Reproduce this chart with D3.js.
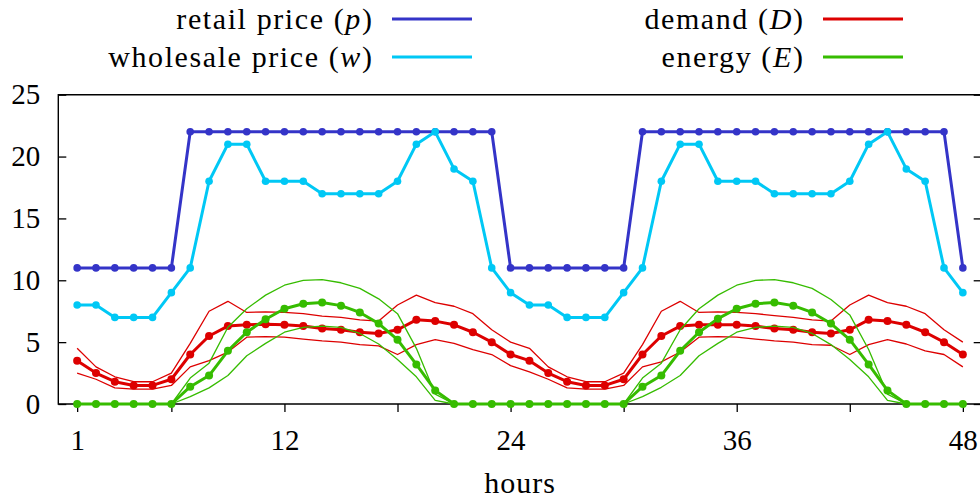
<!DOCTYPE html>
<html>
<head>
<meta charset="utf-8">
<script src="https://cdn.jsdelivr.net/npm/d3@7"></script>
<style>
  body { margin: 0; background: #fff; }
</style>
</head>
<body>
<div id="chart"></div>
<script>
// hourly values, two days (1..48)
const retail = [11, 11, 11, 11, 11, 11, 22, 22, 22, 22, 22, 22, 22, 22, 22, 22, 22, 22, 22, 22, 22, 22, 22, 11,
  11, 11, 11, 11, 11, 11, 22, 22, 22, 22, 22, 22, 22, 22, 22, 22, 22, 22, 22, 22, 22, 22, 22, 11];
const wholesale = [8, 8, 7, 7, 7, 9, 11, 18, 21, 21, 18, 18, 18, 17, 17, 17, 17, 18, 21, 22, 19, 18, 11, 9,
  8, 8, 7, 7, 7, 9, 11, 18, 21, 21, 18, 18, 18, 17, 17, 17, 17, 18, 21, 22, 19, 18, 11, 9];
const demand = [3.5, 2.5, 1.8, 1.5, 1.5, 2.0, 4.0, 5.5, 6.3, 6.4, 6.45, 6.4, 6.3, 6.1, 6.0, 5.8, 5.7, 6.0, 6.8, 6.7, 6.4, 5.8, 5.0, 4.0,
  3.5, 2.5, 1.8, 1.5, 1.5, 2.0, 4.0, 5.5, 6.3, 6.4, 6.4, 6.4, 6.3, 6.1, 6.0, 5.8, 5.7, 6.0, 6.8, 6.7, 6.4, 5.8, 5.0, 4.0];
const demandHi = [4.5, 3.0, 2.2, 1.8, 1.8, 2.5, 4.9, 7.5, 8.3, 7.4, 7.45, 7.4, 7.3, 7.1, 7.0, 6.8, 6.7, 8.0, 8.8, 8.2, 7.9, 7.3, 6.0, 5.0,
  4.5, 3.0, 2.2, 1.8, 1.8, 2.5, 4.8, 7.5, 8.3, 7.4, 7.45, 7.4, 7.3, 7.15, 7.0, 6.8, 6.7, 8.0, 8.8, 8.2, 7.9, 7.3, 6.0, 5.0];
const demandLo = [2.5, 2.0, 1.3, 1.2, 1.2, 1.5, 3.0, 3.5, 4.2, 5.4, 5.45, 5.4, 5.25, 5.1, 5.0, 4.8, 4.7, 4.0, 4.8, 5.2, 4.9, 4.4, 4.0, 3.1,
  2.6, 2.0, 1.3, 1.2, 1.2, 1.5, 3.0, 3.4, 4.2, 5.4, 5.45, 5.4, 5.25, 5.1, 5.0, 4.8, 4.75, 4.0, 4.8, 5.2, 4.85, 4.3, 4.0, 3.0];
const energy = [0, 0, 0, 0, 0, 0, 1.4, 2.3, 4.3, 5.8, 6.85, 7.7, 8.1, 8.2, 7.95, 7.4, 6.5, 5.2, 3.2, 1.1, 0, 0, 0, 0,
  0, 0, 0, 0, 0, 0, 1.4, 2.3, 4.3, 5.8, 6.9, 7.7, 8.1, 8.2, 7.95, 7.4, 6.5, 5.2, 3.2, 1.1, 0, 0, 0, 0];
const energyHi = [0, 0, 0, 0, 0, 0, 2.1, 3.3, 6.2, 7.7, 8.8, 9.6, 10.0, 10.05, 9.8, 9.35, 8.5, 7.3, 4.5, 0.8, 0, 0, 0, 0,
  0, 0, 0, 0, 0, 0, 2.1, 3.3, 6.0, 7.7, 8.8, 9.6, 10.0, 10.05, 9.8, 9.35, 8.45, 7.2, 4.4, 0.8, 0, 0, 0, 0];
const energyLo = [0, 0, 0, 0, 0, 0, 0.6, 1.3, 2.3, 3.9, 4.9, 5.8, 6.2, 6.3, 6.2, 5.7, 4.85, 3.6, 2.2, 0.3, 0, 0, 0, 0,
  0, 0, 0, 0, 0, 0, 0.6, 1.35, 2.3, 3.9, 4.9, 5.8, 6.2, 6.3, 6.2, 5.7, 4.8, 3.6, 2.2, 0.3, 0, 0, 0, 0];

const xTicks = [1, 6, 12, 18, 24, 30, 36, 42, 48];
const xLabels = [1, 12, 24, 36, 48];
const yTicks = [0, 5, 10, 15, 20, 25];

const legendItems = [
  { name: "retail price ", sym: "p", color: "#3434c8", col: 0, row: 0 },
  { name: "wholesale price ", sym: "w", color: "#00c8f5", col: 0, row: 1 },
  { name: "demand ", sym: "D", color: "#dd0000", col: 1, row: 0 },
  { name: "energy ", sym: "E", color: "#36bc00", col: 1, row: 1 }
];

const FONT = "'Liberation Serif', 'DejaVu Serif', 'Times New Roman', serif";

const W = 980, H = 499;
const margin = { top: 94.7, right: -1.7, bottom: 95, left: 58.3 };
const width = W - margin.left - margin.right;
const height = H - margin.top - margin.bottom;

const svg = d3.select("#chart")
  .append("svg")
  .attr("width", W)
  .attr("height", H)
  .attr("font-family", FONT);

const g = svg.append("g")
  .attr("transform", `translate(${margin.left},${margin.top})`);

const x = d3.scaleLinear().domain([0, 49]).range([0, width]);
const y = d3.scaleLinear().domain([0, 25]).range([height, 0]);

// axes
const yAxis = g.append("g")
  .call(d3.axisLeft(y).tickValues(yTicks).tickSizeInner(-8).tickSizeOuter(0).tickPadding(18));
yAxis.attr("font-family", FONT).attr("font-size", 29);
yAxis.select(".domain").remove();
yAxis.selectAll("line").attr("stroke", "#000").attr("stroke-width", 1.3);
yAxis.selectAll("text").attr("fill", "#000").attr("dy", "0.31em");

const yAxisR = g.append("g")
  .attr("transform", `translate(${width},0)`)
  .call(d3.axisRight(y).tickValues(yTicks).tickSizeInner(-8).tickSizeOuter(0).tickFormat(""));
yAxisR.select(".domain").remove();
yAxisR.selectAll("line").attr("stroke", "#000").attr("stroke-width", 1.3);

const xAxis = g.append("g")
  .attr("transform", `translate(0,${height})`)
  .call(d3.axisBottom(x).tickValues(xTicks).tickSizeInner(8).tickSizeOuter(0)
    .tickFormat(d => xLabels.includes(d) ? d : ""));
xAxis.attr("font-family", FONT).attr("font-size", 29);
xAxis.select(".domain").remove();
xAxis.selectAll("line").attr("stroke", "#000").attr("stroke-width", 1.3);
xAxis.selectAll("text").attr("fill", "#000").attr("y", 46).attr("dy", null);

// frame (left, top, bottom)
g.append("path")
  .attr("d", `M${width},0H0V${height}H${width}`)
  .attr("fill", "none")
  .attr("stroke", "#000")
  .attr("stroke-width", 1.4);

g.append("text")
  .attr("x", width / 2)
  .attr("y", height + 89)
  .attr("text-anchor", "middle")
  .attr("font-size", 30)
  .attr("letter-spacing", 1)
  .text("hours");

const line = d3.line().x((d, i) => x(i + 1)).y(d => y(d));

function thin(values, color) {
  g.append("path")
    .datum(values)
    .attr("d", line)
    .attr("fill", "none")
    .attr("stroke", color)
    .attr("stroke-width", 1.3)
    .attr("stroke-linejoin", "round");
}

function thick(values, color, r) {
  g.append("path")
    .datum(values)
    .attr("d", line)
    .attr("fill", "none")
    .attr("stroke", color)
    .attr("stroke-width", 3)
    .attr("stroke-linejoin", "round");
  g.append("g")
    .selectAll("circle")
    .data(values)
    .join("circle")
    .attr("cx", (d, i) => x(i + 1))
    .attr("cy", d => y(d))
    .attr("r", r)
    .attr("fill", color);
}

thick(retail, legendItems[0].color, 3.8);
thick(wholesale, legendItems[1].color, 3.8);
thin(demandHi, legendItems[2].color);
thin(demandLo, legendItems[2].color);
thick(demand, legendItems[2].color, 4);
thin(energyHi, legendItems[3].color);
thin(energyLo, legendItems[3].color);
thick(energy, legendItems[3].color, 4);

// legend
const legendRight = [372, 803];
const legendRows = [19, 57];

legendItems.forEach(d => {
  const t = svg.append("text")
    .attr("x", legendRight[d.col] + 1.5)
    .attr("y", legendRows[d.row] + 9.5)
    .attr("text-anchor", "end")
    .attr("font-size", 30)
    .attr("letter-spacing", 1.6);
  t.append("tspan").text(d.name + "(");
  t.append("tspan").attr("font-style", "italic").text(d.sym);
  t.append("tspan").text(")");

  svg.append("line")
    .attr("x1", legendRight[d.col] + 20)
    .attr("x2", legendRight[d.col] + 100)
    .attr("y1", legendRows[d.row])
    .attr("y2", legendRows[d.row])
    .attr("stroke", d.color)
    .attr("stroke-width", 3);
});
</script>
</body>
</html>
